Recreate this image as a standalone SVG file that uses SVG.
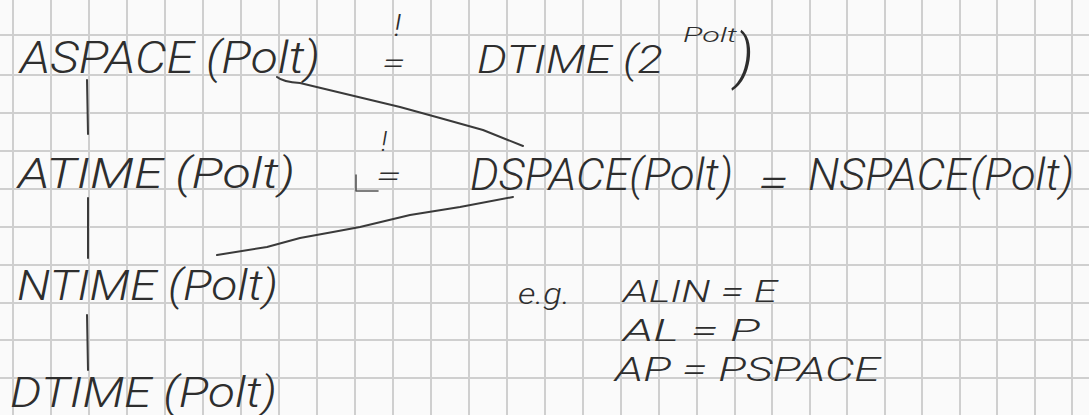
<svg xmlns="http://www.w3.org/2000/svg" width="1089" height="415" viewBox="0 0 1089 415">
  <style>
    .grid line { stroke: #cfcfcf; stroke-width: 2; }
    .t { font-family: Roboto, "Liberation Sans", Arial, sans-serif; font-weight: 300; font-style: italic; fill: #2e2e2e; }
    .ink { fill: none; stroke: #3a3a3a; stroke-width: 2; stroke-linecap: round; stroke-linejoin: round; }
    .thin { fill: none; stroke: #555555; stroke-width: 1.6; stroke-linecap: round; stroke-linejoin: round; }
  </style>
  <rect width="1089" height="415" fill="#fafafa"/>
  <g class="grid">
    <line x1="13" y1="0" x2="13" y2="415"/>
    <line x1="51" y1="0" x2="51" y2="415"/>
    <line x1="89" y1="0" x2="89" y2="415"/>
    <line x1="127" y1="0" x2="127" y2="415"/>
    <line x1="165" y1="0" x2="165" y2="415"/>
    <line x1="203" y1="0" x2="203" y2="415"/>
    <line x1="241" y1="0" x2="241" y2="415"/>
    <line x1="279" y1="0" x2="279" y2="415"/>
    <line x1="317" y1="0" x2="317" y2="415"/>
    <line x1="355" y1="0" x2="355" y2="415"/>
    <line x1="393" y1="0" x2="393" y2="415"/>
    <line x1="431" y1="0" x2="431" y2="415"/>
    <line x1="469" y1="0" x2="469" y2="415"/>
    <line x1="507" y1="0" x2="507" y2="415"/>
    <line x1="545" y1="0" x2="545" y2="415"/>
    <line x1="583" y1="0" x2="583" y2="415"/>
    <line x1="621" y1="0" x2="621" y2="415"/>
    <line x1="659" y1="0" x2="659" y2="415"/>
    <line x1="697" y1="0" x2="697" y2="415"/>
    <line x1="735" y1="0" x2="735" y2="415"/>
    <line x1="772" y1="0" x2="772" y2="415"/>
    <line x1="810" y1="0" x2="810" y2="415"/>
    <line x1="847" y1="0" x2="847" y2="415"/>
    <line x1="885" y1="0" x2="885" y2="415"/>
    <line x1="922" y1="0" x2="922" y2="415"/>
    <line x1="960" y1="0" x2="960" y2="415"/>
    <line x1="997" y1="0" x2="997" y2="415"/>
    <line x1="1035" y1="0" x2="1035" y2="415"/>
    <line x1="1072" y1="0" x2="1072" y2="415"/>
    <line x1="0" y1="35" x2="1089" y2="35"/>
    <line x1="0" y1="75" x2="1089" y2="75"/>
    <line x1="0" y1="113" x2="1089" y2="113"/>
    <line x1="0" y1="151" x2="1089" y2="151"/>
    <line x1="0" y1="189" x2="1089" y2="189"/>
    <line x1="0" y1="227" x2="1089" y2="227"/>
    <line x1="0" y1="265" x2="1089" y2="265"/>
    <line x1="0" y1="303" x2="1089" y2="303"/>
    <line x1="0" y1="340" x2="1089" y2="340"/>
    <line x1="0" y1="378" x2="1089" y2="378"/>
  </g>

  <g id="connectors">
    <path class="ink" d="M87 80 L88 134"/>
    <path class="ink" d="M88 198 L88 258"/>
    <path class="ink" d="M87 315 L88 370"/>
    <path class="ink" d="M277 77 Q283 82 300 83 L350 95 L400 107 L440 118 L483 130 L523 146"/>
    <path class="ink" d="M217 255 L267 247 L300 238 L333 232 L360 227 L410 215 L460 207 L513 197"/>
    <path class="thin" d="M356 175 L356 191 L378 191"/>
  </g>

  <g id="relations">
    <text class="t" x="394" y="36" font-size="32">!</text>
    <text class="t" x="382" y="73" font-size="30" textLength="23" lengthAdjust="spacingAndGlyphs">=</text>
    <text class="t" x="381" y="151" font-size="28">!</text>
    <text class="t" x="376" y="186" font-size="30" textLength="25" lengthAdjust="spacingAndGlyphs">=</text>
  </g>

  <g id="node-aspace">
    <text class="t" x="20" y="73" font-size="44" textLength="300" lengthAdjust="spacingAndGlyphs">ASPACE (Polt)</text>
  </g>

  <g id="node-dtime-exp">
    <text class="t" x="477" y="73" font-size="38" textLength="186" lengthAdjust="spacingAndGlyphs">DTIME (2</text>
    <text class="t" x="683" y="42" font-size="20" textLength="54" lengthAdjust="spacingAndGlyphs">Polt</text>
    <text class="t" x="735" y="77" font-size="60">)</text>
  </g>

  <g id="node-atime">
    <text class="t" x="18" y="188" font-size="42" textLength="277" lengthAdjust="spacingAndGlyphs">ATIME (Polt)</text>
  </g>

  <g id="node-dspace">
    <text class="t" x="470" y="190" font-size="44" textLength="263" lengthAdjust="spacingAndGlyphs">DSPACE(Polt)</text>
    <text class="t" x="758" y="196" font-size="40" textLength="30" lengthAdjust="spacingAndGlyphs">=</text>
    <text class="t" x="808" y="190" font-size="44" textLength="266" lengthAdjust="spacingAndGlyphs">NSPACE(Polt)</text>
  </g>

  <g id="node-ntime">
    <text class="t" x="17" y="300" font-size="42" textLength="261" lengthAdjust="spacingAndGlyphs">NTIME (Polt)</text>
  </g>

  <g id="node-dtime">
    <text class="t" x="10" y="407" font-size="42" textLength="267" lengthAdjust="spacingAndGlyphs">DTIME (Polt)</text>
  </g>

  <g id="node-examples">
    <text class="t" x="518" y="304" font-size="30" textLength="52" lengthAdjust="spacingAndGlyphs">e.g.</text>
    <text class="t" x="623" y="302" font-size="32" textLength="154" lengthAdjust="spacingAndGlyphs">ALIN = E</text>
    <text class="t" x="623" y="341" font-size="32" textLength="137" lengthAdjust="spacingAndGlyphs">AL = P</text>
    <text class="t" x="615" y="381" font-size="34" textLength="265" lengthAdjust="spacingAndGlyphs">AP = PSPACE</text>
  </g>
</svg>
